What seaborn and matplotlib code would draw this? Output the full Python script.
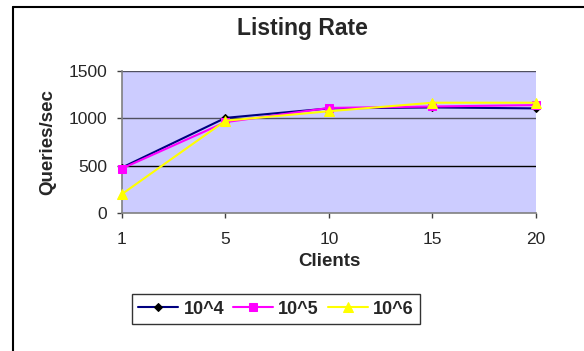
import numpy as np
import pandas as pd
import seaborn as sns
import matplotlib
matplotlib.use("Agg")
import matplotlib.pyplot as plt
from matplotlib.lines import Line2D

# values
clients = ["1", "5", "10", "15", "20"]
rate_1e4 = [480, 1005, 1105, 1115, 1105]
rate_1e5 = [470, 960, 1110, 1125, 1140]
rate_1e6 = [200, 975, 1075, 1165, 1165]
series_names = ["10^4", "10^5", "10^6"]
yticks = [0, 500, 1000, 1500]

sns.set_theme(style="white")
plt.rcParams["font.family"] = ["Liberation Sans", "DejaVu Sans"]

fig = plt.figure(figsize=(5.84, 3.51), dpi=100)
ax = fig.add_axes([122 / 584, 1 - 213 / 351, 414 / 584, 142 / 351])
ax.set_facecolor("#CCCCFF")

styles = [
    dict(color="#000080", marker="D", markersize=4.5, markerfacecolor="black", markeredgecolor="black"),
    dict(color="#FF00FF", marker="s", markersize=5.5, markerfacecolor="#FF00FF", markeredgecolor="#FF00FF"),
    dict(color="#FFFF00", marker="^", markersize=7.5, markerfacecolor="#FFFF00", markeredgecolor="#FFFF00"),
]
for name, vals, st in zip(series_names, [rate_1e4, rate_1e5, rate_1e6], styles):
    df = pd.DataFrame({"Clients": clients, "rate": vals})
    sns.lineplot(data=df, x="Clients", y="rate", ax=ax, sort=False, linewidth=1.5,
                 label=name, clip_on=False, zorder=3, **st)

ax.set_xlim(0, 4)
ax.set_ylim(0, 1500)
ax.set_yticks(yticks)
ax.set_yticklabels([str(t) for t in yticks])
for t in yticks[1:]:
    ax.axhline(t, color="black" if t == 500 else "#505060", lw=1.0, zorder=1)

for s in ["top", "right"]:
    ax.spines[s].set_visible(False)
for s in ["left", "bottom"]:
    ax.spines[s].set_color("#808080")
    ax.spines[s].set_linewidth(1.2)

ax.tick_params(axis="y", direction="out", length=3.6, width=1, color="#404040",
               pad=7, labelsize=12.5, left=True)
ax.tick_params(axis="x", direction="out", length=3.6, width=1, color="#404040",
               pad=10, labelsize=12.5, bottom=True)

ax.set_xlabel("Clients", fontsize=13.5, fontweight="bold")
ax.xaxis.set_label_coords(0.5, (213 - 262) / 142)
ax.xaxis.label.set_va("center")
ax.set_ylabel("Queries/sec", fontsize=13.5, fontweight="bold")
ax.yaxis.set_label_coords((48 - 122) / 414, 0.5)
ax.yaxis.label.set_va("center")

fig.text(302 / 584, 1 - 29 / 351, "Listing Rate", ha="center", va="center",
         fontsize=16.5, fontweight="bold")

handles, labels = ax.get_legend_handles_labels()
ax.get_legend().remove()
leg = fig.legend(handles, labels, loc="center", bbox_to_anchor=(276 / 584, 1 - 309 / 351),
                 ncol=3, frameon=True, fancybox=False, edgecolor="black",
                 prop={"weight": "bold", "size": 13}, handlelength=2.2,
                 handletextpad=0.3, columnspacing=0.5, borderpad=0.35)
leg.get_frame().set_linewidth(1.0)

# chart area border, only left and top edges are inside the picture
bx, by = 13 / 584, 1 - 7 / 351
fig.add_artist(Line2D([bx, bx], [0, by], transform=fig.transFigure, color="black", lw=1.5))
fig.add_artist(Line2D([bx, 1], [by, by], transform=fig.transFigure, color="black", lw=1.5))

fig.savefig("out.png", dpi=100)
